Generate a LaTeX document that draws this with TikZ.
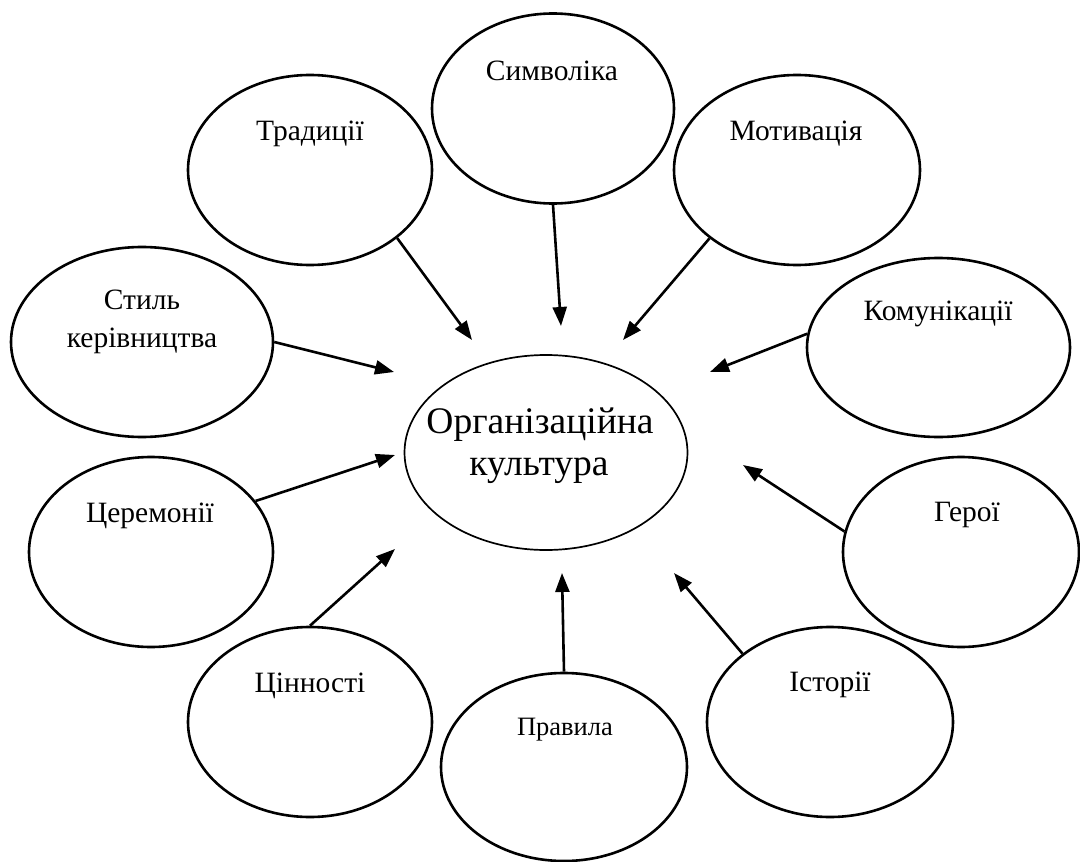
\documentclass[tikz,border=0pt]{standalone}
\usepackage{fontspec}
\setmainfont{Liberation Serif}
\usetikzlibrary{arrows.meta,shapes.geometric}
\begin{document}
\begin{tikzpicture}[x=1pt,y=-1pt,
  oval/.style={draw, ellipse, line width=2.6pt, inner sep=0pt},
  lbl/.style={inner sep=0pt, anchor=base, font=\fontsize{29.5}{34}\selectfont},
  arr/.style={line width=2.6pt, -{Triangle[length=19pt,width=14pt]}}]
\useasboundingbox (0,0) rectangle (1080,862);
% ellipses
\node[oval, minimum width=242pt, minimum height=190pt] (symb)  at (553,108.5) {};
\node[oval, minimum width=244pt, minimum height=190pt] (trad)  at (310,170) {};
\node[oval, minimum width=246pt, minimum height=190pt] (motiv) at (797,170) {};
\node[oval, minimum width=262pt, minimum height=190pt] (style) at (142,342) {};
\node[oval, minimum width=263pt, minimum height=179pt] (comm)  at (938.5,347.5) {};
\node[oval, minimum width=244pt, minimum height=190pt] (cer)   at (151,552) {};
\node[oval, minimum width=236pt, minimum height=190pt] (hero)  at (961,552) {};
\node[oval, minimum width=244pt, minimum height=190pt] (val)   at (310,722) {};
\node[oval, minimum width=246pt, minimum height=188pt] (rules) at (564,767) {};
\node[oval, minimum width=246pt, minimum height=190pt] (hist)  at (830,722) {};
\node[draw, ellipse, line width=1.7pt, inner sep=0pt, minimum width=283pt, minimum height=195pt] (core) at (546,452.5) {};
% labels
\node[lbl] (symbT)  at (552,80)  {Символіка};
\node[lbl] (tradT)  at (310,140) {Традиції};
\node[lbl] (motivT) at (796,140) {Мотивація};
\node[lbl] (styleT) at (142,309) {Стиль};
\node[lbl] (styleU) at (142,347) {керівництва};
\node[lbl] (commT)  at (938,320) {Комунікації};
\node[lbl] (cerT)   at (150,522) {Церемонії};
\node[lbl] (heroT)  at (967,521) {Герої};
\node[lbl] (valT)   at (310,692) {Цінності};
\node[lbl] (histT)  at (830,691) {Історії};
\node[lbl, font=\fontsize{26.5}{30}\selectfont] (rulesT) at (565,735) {Правила};
\node[lbl, font=\fontsize{37.5}{42}\selectfont] (coreT) at (540,433) {Організаційна};
\node[lbl, font=\fontsize{37.5}{42}\selectfont] (coreU) at (539,475) {культура};
% arrow tips
\coordinate (tTrad)  at (472,340);
\coordinate (tSymb)  at (561,326);
\coordinate (tMotiv) at (623,340);
\coordinate (tStyle) at (394,372);
\coordinate (tComm)  at (710,372);
\coordinate (tCer)   at (395,455);
\coordinate (tVal)   at (395,549);
\coordinate (tRules) at (562,573);
\coordinate (tHist)  at (674,573);
\coordinate (tHero)  at (743,465);
% arrows
\draw[arr] (trad.-38)   -- (tTrad);
\draw[arr] (symb.-90)   -- (tSymb);
\draw[arr] (motiv.218)  -- (tMotiv);
\draw[arr] (style.0)    -- (tStyle);
\draw[arr] (comm.174)   -- (tComm);
\draw[arr] (cer.26)     -- (tCer);
\draw[arr] (val.90)     -- (tVal);
\draw[arr] (rules.90)   -- (tRules);
\draw[arr] (hist.142)   -- (tHist);
\draw[arr] (hero.170)   -- (tHero);
\end{tikzpicture}
\end{document}
